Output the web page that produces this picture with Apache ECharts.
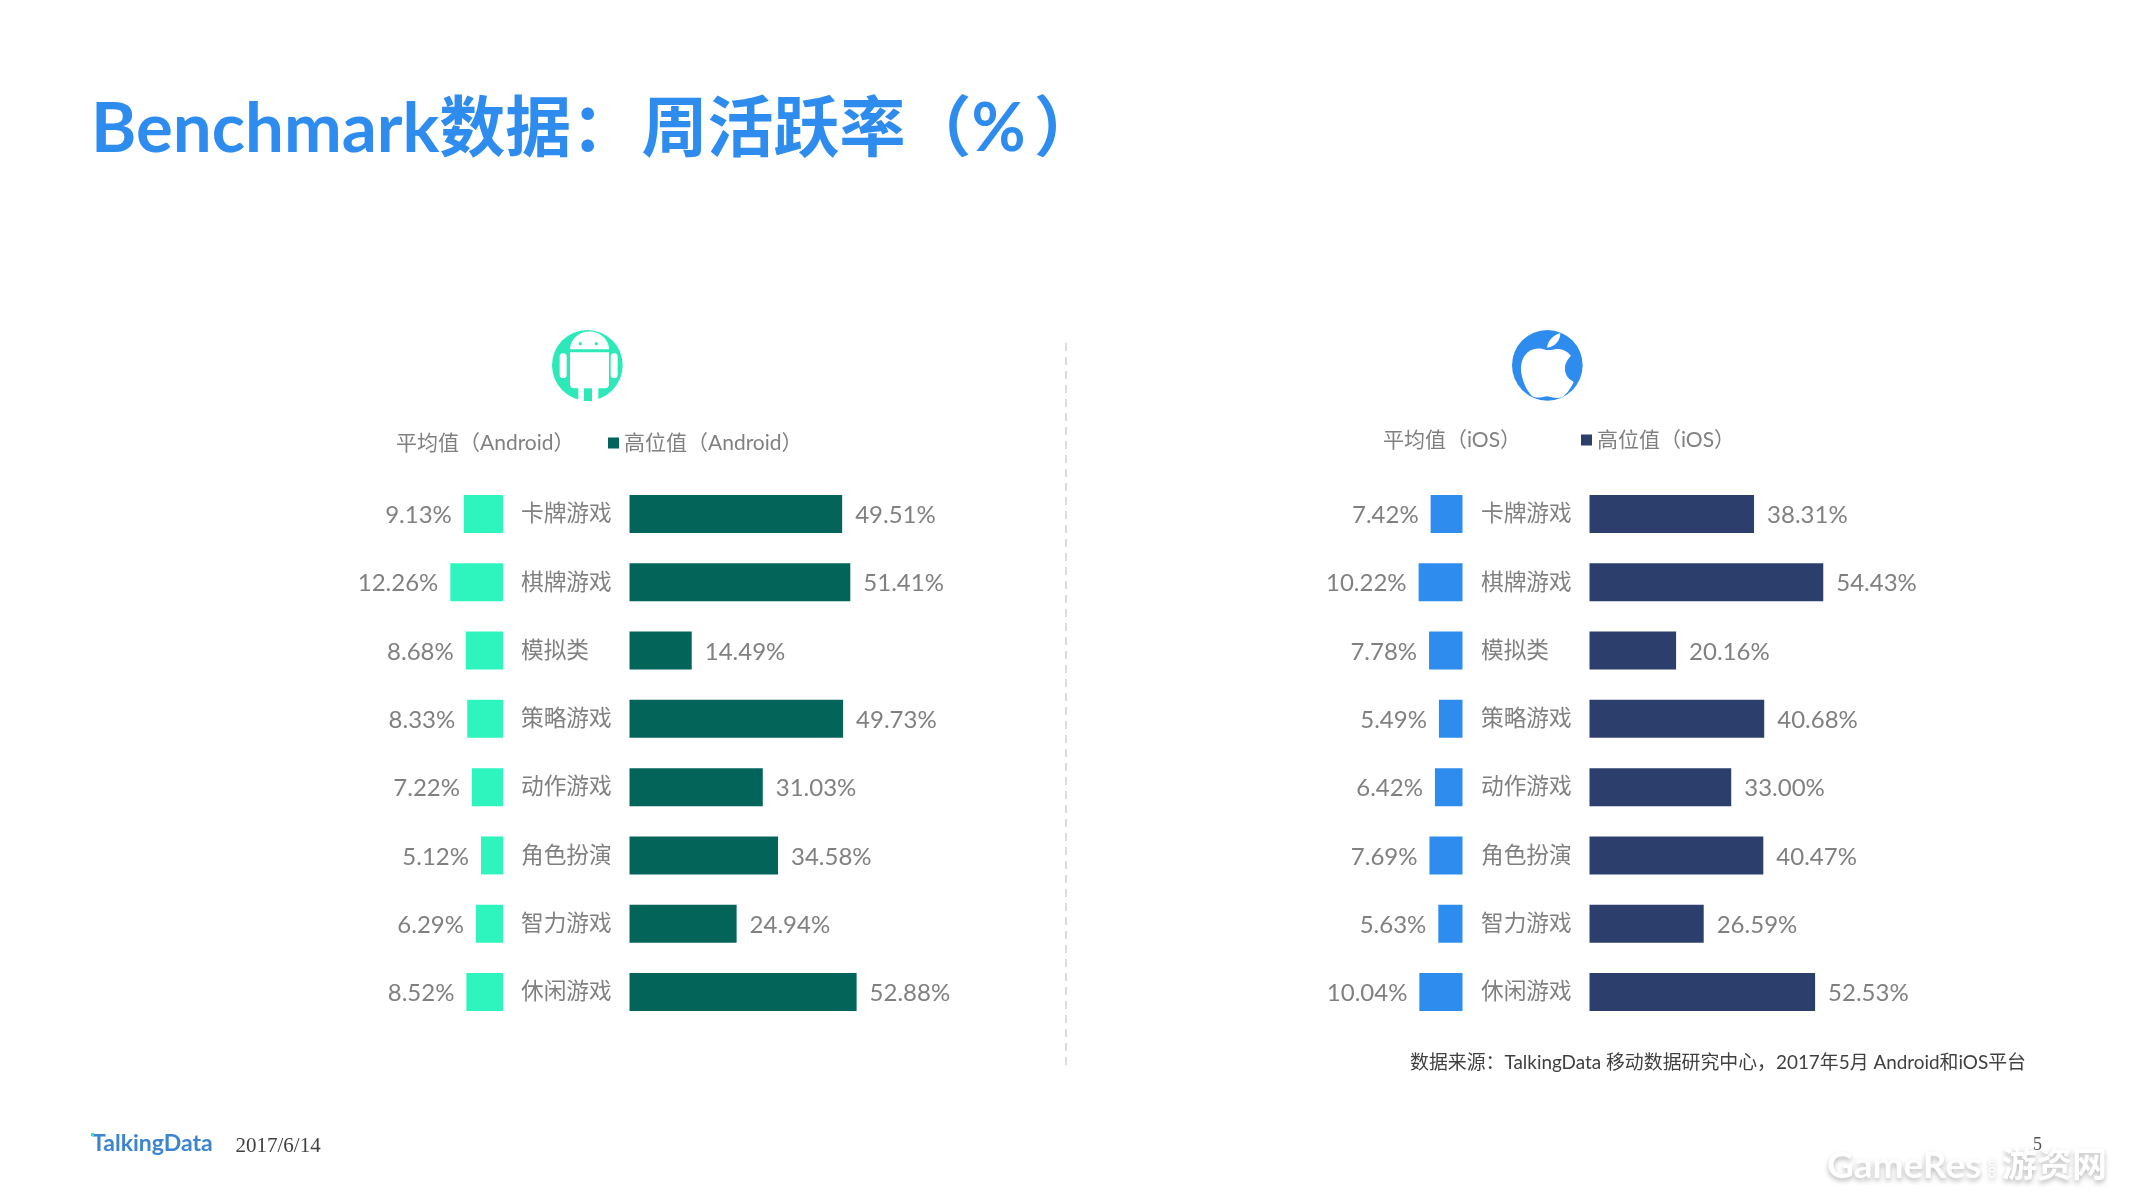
<!DOCTYPE html>
<html>
<head>
<meta charset="utf-8">
<title>Benchmark</title>
<script src="https://cdn.jsdelivr.net/npm/echarts@6/dist/echarts.min.js"></script>
<style>
html,body{margin:0;padding:0;background:#fff;}
#main{width:2131px;height:1198px;}
</style>
</head>
<body>
<div id="main"></div>
<script>
const categories = ['卡牌游戏','棋牌游戏','模拟类','策略游戏','动作游戏','角色扮演','智力游戏','休闲游戏'];
const androidAvg = [9.13,12.26,8.68,8.33,7.22,5.12,6.29,8.52];
const androidHigh = [49.51,51.41,14.49,49.73,31.03,34.58,24.94,52.88];
const iosAvg = [7.42,10.22,7.78,5.49,6.42,7.69,5.63,10.04];
const iosHigh = [38.31,54.43,20.16,40.68,33.00,40.47,26.59,52.53];

const FONT = 'Lato, "Noto Sans CJK SC", sans-serif';
const GRAY = '#808080';
const UNIT = 4.295; // px per 1%
const GRID_TOP = 479.8, GRID_H = 546.4;
const AVG_MAX = 20, HIGH_MAX = 60;

function pct(p){ return p.value.toFixed(2) + '%'; }

// one side = avg grid (grows to the left) + high grid (grows to the right)
const grids = [], xAxes = [], yAxes = [], series = [];
function addPanel(name, avgRight, highLeft, avg, high, avgColor, highColor){
  const g = grids.length;
  grids.push({left: avgRight - AVG_MAX*UNIT, width: AVG_MAX*UNIT, top: GRID_TOP, height: GRID_H});
  grids.push({left: highLeft, width: HIGH_MAX*UNIT, top: GRID_TOP, height: GRID_H});
  xAxes.push({gridIndex:g, type:'value', min:0, max:AVG_MAX, inverse:true, show:false});
  xAxes.push({gridIndex:g+1, type:'value', min:0, max:HIGH_MAX, show:false});
  yAxes.push({gridIndex:g, type:'category', data:categories, inverse:true, axisLine:{show:false}, axisTick:{show:false}, axisLabel:{show:false}});
  yAxes.push({gridIndex:g+1, type:'category', data:categories, inverse:true, axisLine:{show:false}, axisTick:{show:false},
    axisLabel:{show:true, interval:0, margin:108.5, align:'left', color:GRAY, fontSize:22.7, fontFamily:FONT}});
  series.push({name:'平均值（'+name+'）', type:'bar', xAxisIndex:g, yAxisIndex:g, data:avg, barWidth:38,
    itemStyle:{color:avgColor}, label:{show:true, position:'left', distance:12, offset:[0,1.5], formatter:pct, color:GRAY, fontSize:24, fontFamily:FONT}});
  series.push({name:'高位值（'+name+'）', type:'bar', xAxisIndex:g+1, yAxisIndex:g+1, data:high, barWidth:38,
    itemStyle:{color:highColor}, label:{show:true, position:'right', distance:13, offset:[0,1.5], formatter:pct, color:GRAY, fontSize:24, fontFamily:FONT}});
}
addPanel('Android', 503, 629.5, androidAvg, androidHigh, '#2ef5be', '#03655a');
addPanel('iOS', 1462.5, 1589.5, iosAvg, iosHigh, '#2e8cef', '#2c3f6c');

function legendItem(name, left, top, hideMark){
  const item = {data:[name], left:left, top:top, icon:'rect', itemWidth:11, itemHeight:11, itemGap:6, selectedMode:false,
    padding:0, textStyle:{color:GRAY, fontSize:21, fontFamily:FONT}};
  if (hideMark) item.itemStyle = {opacity:0};
  return item;
}

function txt(x, y, text, size, color, family, extra){
  return {type:'text', x:x, y:y, silent:true, style:Object.assign({text:text, fontSize:size, fill:color, fontFamily:family, verticalAlign:'middle'}, extra||{})};
}

// icon outlines, graphic component only knows registered shapes
echarts.graphic.registerShape('androidHead', echarts.graphic.extendPath('M75 73 A58 53 0 0 1 192 73 Z', {}));
echarts.graphic.registerShape('appleBody', echarts.graphic.extendPath('M125 75 C105 68 85 68 68 82 C50 98 44 125 50 150 C56 178 68 200 82 214 C92 220 108 218 125 214 C145 218 160 222 172 216 C186 206 200 186 206 170 C188 162 178 145 180 125 C182 110 190 100 198 92 C185 76 170 70 155 72 C145 73 135 76 125 75 Z', {}));
echarts.graphic.registerShape('appleLeaf', echarts.graphic.extendPath('M126 68 C128 48 145 30 166 24 C166 46 150 66 126 68 Z', {}));

// android icon, zoom coords of the crop at (545,325) /3
const androidIcon = {type:'group', x:545, y:325, scaleX:1/3, scaleY:1/3, silent:true, children:[
  {type:'circle', shape:{cx:127, cy:121, r:106}, style:{fill:'#2de8b8'}},
  {type:'androidHead', style:{fill:'#fff'}},
  {type:'circle', shape:{cx:106, cy:56, r:5}, style:{fill:'#2de8b8'}},
  {type:'circle', shape:{cx:154, cy:56, r:5}, style:{fill:'#2de8b8'}},
  {type:'rect', shape:{x:75, y:82, width:117, height:108, r:[0,0,12,12]}, style:{fill:'#fff'}},
  {type:'rect', shape:{x:44, y:85, width:21, height:74, r:10}, style:{fill:'#fff'}},
  {type:'rect', shape:{x:197, y:85, width:21, height:74, r:10}, style:{fill:'#fff'}},
  {type:'rect', shape:{x:100, y:185, width:60, height:46}, style:{fill:'#fff'}},
  {type:'rect', shape:{x:117, y:190, width:24, height:38}, style:{fill:'#2de8b8'}}
]};

// apple icon, zoom coords of the crop at (1505,325) /3
const appleIcon = {type:'group', x:1505, y:325, scaleX:1/3, scaleY:1/3, silent:true, children:[
  {type:'circle', shape:{cx:127, cy:121, r:106}, style:{fill:'#2e8cef'}},
  {type:'appleBody', style:{fill:'#fff'}},
  {type:'appleLeaf', style:{fill:'#fff'}}
]};

const shadow = {fontWeight:'bold', textShadowColor:'rgba(0,0,0,0.28)', textShadowBlur:5, textShadowOffsetY:3};
const graphics = [
  {type:'line', shape:{x1:1066, y1:343, x2:1066, y2:1070}, silent:true, style:{stroke:'#cfcfcf', lineWidth:1.5, lineDash:[8,6]}},
  androidIcon,
  appleIcon,
  txt(1410, 1063, '数据来源：TalkingData 移动数据研究中心，2017年5月 Android和iOS平台', 18.9, '#404040', FONT),
  txt(92, 1144, 'TalkingData', 23, '#3d85d0', FONT, {fontWeight:'bold'}),
  {type:'rect', shape:{x:91, y:1133, width:3, height:3}, silent:true, style:{fill:'#2de8b8'}},
  txt(235.5, 1146, '2017/6/14', 21, '#404040', '"Liberation Serif", serif'),
  txt(2033, 1145, '5', 18, '#505050', '"Liberation Serif", serif'),
  txt(1827, 1166, 'GameRes', 37, '#ffffff', FONT, shadow),
  Object.assign(txt(1991, 1178, 'com', 11, '#ffffff', FONT, shadow), {rotation:Math.PI/2}),
  txt(2002, 1166, '游资网', 35, '#ffffff', FONT, shadow)
];

const chart = echarts.init(document.getElementById('main'), null, {width:2131, height:1198});
chart.setOption({
  backgroundColor:'#ffffff',
  animation:false,
  title:{text:'{a|Benchmark}{b|数据：\u200a周活跃率（%\u2009）}', left:91, top:95, padding:0,
    textStyle:{rich:{
      a:{color:'#2e8cef', fontSize:69, fontWeight:'bold', fontFamily:FONT},
      b:{color:'#2e8cef', fontSize:66, fontWeight:'bold', fontFamily:FONT}
    }}},
  legend:[
    legendItem('平均值（Android）', 380, 432.5, true),
    legendItem('高位值（Android）', 608, 432.5, false),
    legendItem('平均值（iOS）', 1367, 429.5, true),
    legendItem('高位值（iOS）', 1581, 429.5, false)
  ],
  grid:grids,
  xAxis:xAxes,
  yAxis:yAxes,
  series:series,
  graphic:graphics
});
</script>
</body>
</html>
